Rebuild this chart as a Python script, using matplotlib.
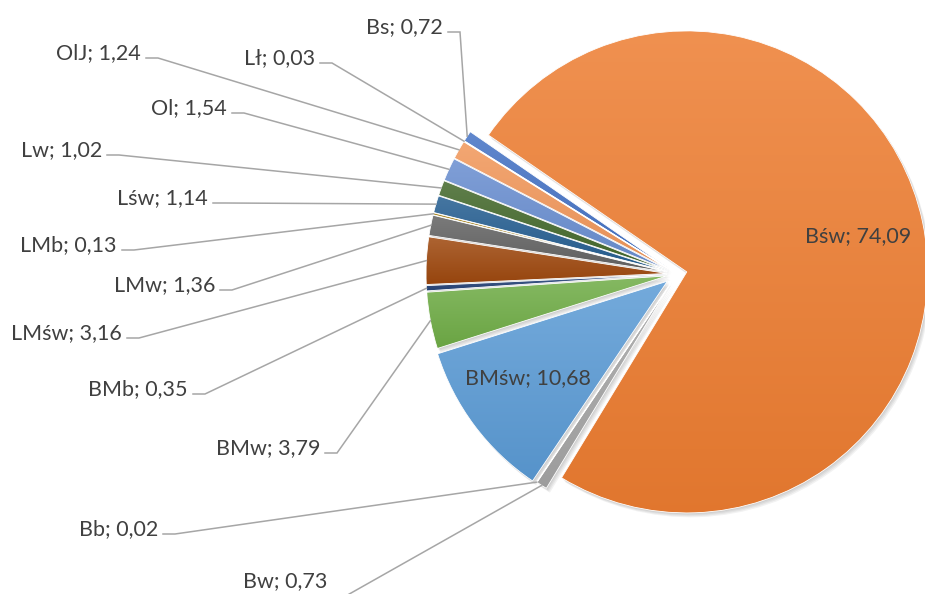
import numpy as np
import matplotlib.pyplot as plt
from matplotlib.patches import Wedge
from matplotlib.colors import to_rgb

W, H = 925, 594

names = ["Bs", "Bśw", "Bw", "Bb", "BMśw", "BMw", "BMb", "LMśw",
         "LMw", "LMb", "Lśw", "Lw", "Ol", "OlJ", "Lł"]
values = [0.72, 74.09, 0.73, 0.02, 10.68, 3.79, 0.35, 3.16,
          1.36, 0.13, 1.14, 1.02, 1.54, 1.24, 0.03]
colors = ["#4472C4", "#ED7D31", "#A5A5A5", "#FFC000", "#5B9BD5", "#70AD47",
          "#264478", "#9E480E", "#636363", "#997300", "#255E91", "#43682B",
          "#698ED0", "#F1975A", "#B7B7B7"]

# label right end x, text baseline y, leader line y (pixels, y from top)
outside_pos = {
    "Bs": (448, 33, 32), "Lł": (320, 64, 63), "OlJ": (146, 59, 58),
    "Ol": (232, 114, 113), "Lw": (107, 156, 155), "Lśw": (213, 204, 203),
    "LMb": (122, 251, 250), "LMw": (220, 291, 290), "LMśw": (127, 339, 338),
    "BMb": (193, 395, 394), "BMw": (325, 454, 453), "Bb": (163, 535, 534),
    "Bw": (332, 587, 597),
}
inside_pos = {"Bśw": (858, 236), "BMśw": (528, 378)}

txt_color = "#404040"
line_color = "#A6A6A6"
font = "Lato"


def lab(name, v):
    return "{}; {:.2f}".format(name, v).replace(".", ",")


fig = plt.figure(figsize=(W / 100, H / 100), dpi=100)
ax = fig.add_axes([0, 0, 1, 1])

# explode is in data units (pixels here)
explode = [10] * len(values)
explode[names.index("BMśw")] = 12

wedges, _ = ax.pie(values, colors=colors, startangle=148, counterclock=False,
                   radius=241, center=(677, H - 274), explode=explode,
                   wedgeprops=dict(edgecolor="white", linewidth=0.6))

for w, c in zip(wedges, colors):
    # soft shadow
    for k in range(1, 5):
        ax.add_patch(Wedge((w.center[0] + k * 0.9, w.center[1] - k * 1.1), w.r,
                           w.theta1, w.theta2, facecolor="black", alpha=0.05,
                           lw=0, zorder=0.5))
    # vertical gradient fill
    ext = w.get_path().get_extents()
    base = np.array(to_rgb(c))
    top = base + (1 - base) * 0.15
    bot = base * 0.95
    t = np.linspace(0, 1, 64)[:, None, None]
    img = bot + (top - bot) * t
    im = ax.imshow(img, extent=[ext.x0, ext.x1, ext.y0, ext.y1], origin="lower",
                   aspect="auto", interpolation="bilinear", zorder=1)
    im.set_clip_path(w)
    w.set_facecolor("none")
    w.set_zorder(2)

for name, v, w in zip(names, values, wedges):
    if name in outside_pos:
        x0, yt, yl = outside_pos[name]
        mid = np.deg2rad((w.theta1 + w.theta2) / 2)
        axp = w.center[0] + w.r * np.cos(mid)
        ayp = w.center[1] + w.r * np.sin(mid)
        ax.plot([x0, x0 + 12, axp], [H - yl, H - yl, ayp], color=line_color,
                lw=1.1, zorder=3, solid_joinstyle="miter")
        ax.text(x0 - 5, H - yt, lab(name, v), ha="right", va="baseline",
                fontsize=15.5, color=txt_color, family=font)
    else:
        x, y = inside_pos[name]
        ax.text(x, H - y, lab(name, v), ha="center", va="center",
                fontsize=15.5, color=txt_color, family=font, zorder=4)

ax.set_xlim(0, W)
ax.set_ylim(0, H)
ax.axis("off")

fig.savefig("out.png", dpi=100)
